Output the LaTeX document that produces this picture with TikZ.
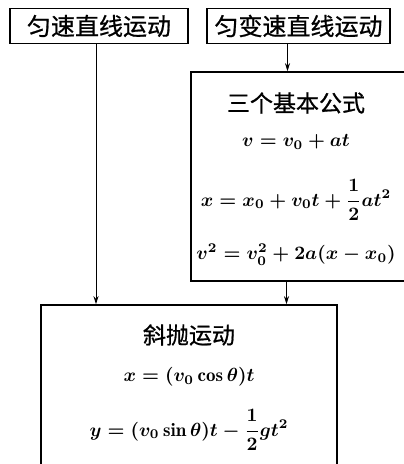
\documentclass[tikz,border=0pt]{standalone}
\usepackage{amsmath}
\usepackage{fontspec}
\usepackage{tikz}
\usetikzlibrary{arrows.meta, positioning, calc}
\newfontfamily\cjk[FakeBold=0.8]{Noto Sans CJK SC}
\tikzstyle{headbox} = [rectangle, draw=black, line width=1.6pt, minimum height=35pt, inner sep=0pt, font=\cjk\fontsize{24}{27}\selectfont]
\tikzstyle{bigbox} = [rectangle, draw=black, line width=1.6pt, inner sep=0pt]
\tikzstyle{title} = [font=\cjk\fontsize{23}{26}\selectfont]
\tikzstyle{formula} = [font=\boldmath, scale=1.9]
\tikzstyle{arrow} = [-{Stealth[length=8pt, width=5pt]}, line width=0.9pt]

\begin{document}
\begin{tikzpicture}[x=1pt, y=1pt]
    \clip (0,0) rectangle (404,464);

    % Top boxes
    \node[headbox, minimum width=178pt] (uniform) at (99, 438) {匀速直线运动};
    \node[headbox, minimum width=183pt] (varied) at (298.5, 438) {匀变速直线运动};

    % Formula box
    \node[bigbox, minimum width=219pt, minimum height=209pt] (formulas) at (300.5, 287.5) {};
    \node[title] (ftitle) at (296, 361) {三个基本公式};
    \node[formula] (feq1) at (296, 322) {$v = v_0 + at$};
    \node[formula] (feq2) at (296, 264) {$\displaystyle x = x_0 + v_0t + \frac{1}{2}at^2$};
    \node[formula] (feq3) at (296, 209) {$v^2 = v_0^2 + 2a(x - x_0)$};

    % Projectile box
    \node[bigbox, minimum width=296pt, minimum height=175pt] (projectile) at (189, 71.5) {};
    \node[title] (ptitle) at (189, 129) {斜抛运动};
    \node[formula] (peq1) at (189, 87) {$x = (v_0\cos\theta)t$};
    \node[formula] (peq2) at (189, 34) {$\displaystyle y = (v_0\sin\theta)t - \frac{1}{2}gt^2$};

    % Arrows
    \draw[arrow] ([xshift=-3pt]uniform.south) -- ([xshift=-3pt]uniform.south |- projectile.north);
    \draw[arrow] ([xshift=-11pt]varied.south) -- ([xshift=-11pt]varied.south |- formulas.north);
    \draw[arrow] ([xshift=-14pt]formulas.south) -- ([xshift=-14pt]formulas.south |- projectile.north);
\end{tikzpicture}
\end{document}
